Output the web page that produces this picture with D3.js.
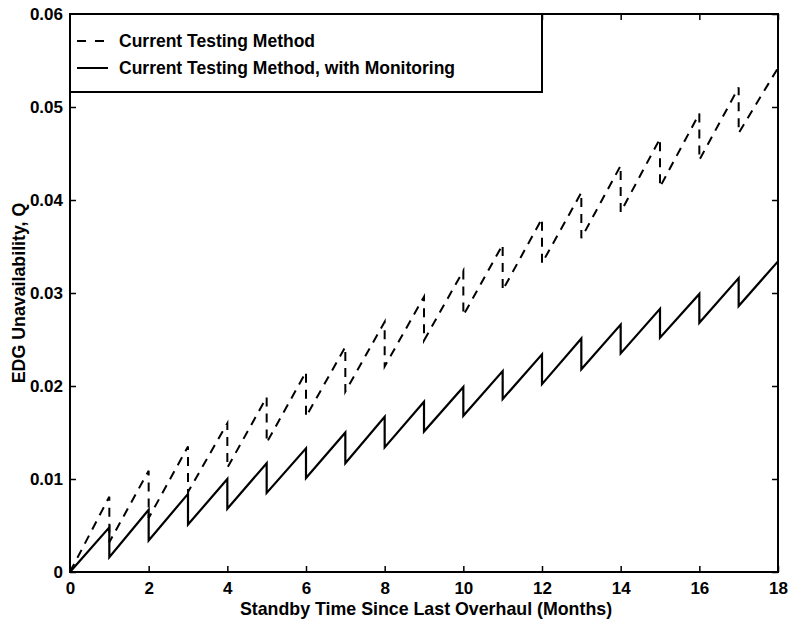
<!DOCTYPE html>
<html lang="en">
<head>
<meta charset="UTF-8">
<title>EDG Unavailability</title>
<script src="https://cdnjs.cloudflare.com/ajax/libs/d3/7.8.5/d3.min.js"></script>
<style>
  body { margin: 0; background: #fff; }
  svg text { font-family: "Liberation Sans", Arial, Helvetica, sans-serif; font-weight: bold; font-size: 17.5px; fill: #000; }
</style>
</head>
<body>
<svg id="chart" width="793" height="622"></svg>
<script>
// test instants (months) where the curves reset
const months = [1, 2, 3, 4, 5, 6, 7, 8, 9, 10, 11, 12, 13, 14, 15, 16, 17];

// Current Testing Method (dashed): value just before and just after each test
const dashedPeak  = [0.0081, 0.0109, 0.0135, 0.0160, 0.0188, 0.0215, 0.0242, 0.0269, 0.0296, 0.0324, 0.0352, 0.0380, 0.0408, 0.0437, 0.0466, 0.0493, 0.0521];
const dashedReset = [0.0032, 0.0058, 0.0086, 0.0112, 0.0139, 0.0167, 0.0194, 0.0221, 0.0249, 0.0276, 0.0303, 0.0332, 0.0359, 0.0387, 0.0414, 0.0443, 0.0472];
const dashedEnd = 0.0542;

// Current Testing Method, with Monitoring (solid)
const solidPeak  = [0.0048, 0.0067, 0.0084, 0.0100, 0.0117, 0.0133, 0.0150, 0.0167, 0.0183, 0.0199, 0.0216, 0.0234, 0.0251, 0.0266, 0.0283, 0.0299, 0.0316];
const solidReset = [0.0016, 0.0034, 0.0051, 0.0068, 0.0085, 0.0101, 0.0117, 0.0134, 0.0151, 0.0168, 0.0186, 0.0202, 0.0218, 0.0235, 0.0252, 0.0268, 0.0286];
const solidEnd = 0.0334;

const xTicks = [0, 2, 4, 6, 8, 10, 12, 14, 16, 18];
const yTicks = [0, 0.01, 0.02, 0.03, 0.04, 0.05, 0.06];
const yTickLabels = ["0", "0.01", "0.02", "0.03", "0.04", "0.05", "0.06"];

const legendLabels = ["Current Testing Method", "Current Testing Method, with Monitoring"];

const xLabel = "Standby Time Since Last Overhaul (Months)";
const yLabel = "EDG Unavailability, Q";

const svg = d3.select("#chart");
const plotL = 70, plotR = 778, plotT = 14, plotB = 572;

const x = d3.scaleLinear().domain([0, 18]).range([plotL, plotR]);
const y = d3.scaleLinear().domain([0, 0.06]).range([plotB, plotT]);

function sawtooth(peaks, resets, endVal) {
    const pts = [[0, 0]];
    months.forEach((m, i) => {
        pts.push([m, peaks[i]]);
        pts.push([m, resets[i]]);
    });
    pts.push([18, endVal]);
    return pts;
}

const line = d3.line().x(d => x(d[0])).y(d => y(d[1]));

// curves
svg.append("path")
    .attr("d", line(sawtooth(dashedPeak, dashedReset, dashedEnd)))
    .attr("fill", "none")
    .attr("stroke", "#000")
    .attr("stroke-width", 2)
    .attr("stroke-dasharray", "9,7");

svg.append("path")
    .attr("d", line(sawtooth(solidPeak, solidReset, solidEnd)))
    .attr("fill", "none")
    .attr("stroke", "#000")
    .attr("stroke-width", 2.2)
    .attr("stroke-linejoin", "miter");

// axes, ticks inward on all four sides
const tickLen = 6;
svg.append("g").attr("transform", `translate(0,${plotB})`)
    .call(d3.axisBottom(x).tickValues(xTicks).tickSizeInner(-tickLen).tickSizeOuter(0).tickPadding(10))
    .call(g => g.select(".domain").remove());
svg.append("g").attr("transform", `translate(0,${plotT})`)
    .call(d3.axisTop(x).tickValues(xTicks).tickSizeInner(-tickLen).tickSizeOuter(0).tickFormat(""))
    .call(g => g.select(".domain").remove());
svg.append("g").attr("transform", `translate(${plotL},0)`)
    .call(d3.axisLeft(y).tickValues(yTicks).tickSizeInner(-tickLen).tickSizeOuter(0).tickPadding(7)
        .tickFormat((d, i) => yTickLabels[i]))
    .call(g => g.select(".domain").remove());
svg.append("g").attr("transform", `translate(${plotR},0)`)
    .call(d3.axisRight(y).tickValues(yTicks).tickSizeInner(-tickLen).tickSizeOuter(0).tickFormat(""))
    .call(g => g.select(".domain").remove());

svg.selectAll(".tick line").attr("stroke", "#000").attr("stroke-width", 1.5);
svg.selectAll(".tick text")
    .style("font-family", "'Liberation Sans', Arial, sans-serif")
    .style("font-weight", "bold")
    .style("font-size", "17px")
    .attr("fill", "#000");

svg.append("rect")
    .attr("x", plotL).attr("y", plotT)
    .attr("width", plotR - plotL).attr("height", plotB - plotT)
    .attr("fill", "none").attr("stroke", "#000").attr("stroke-width", 2);

// legend
const legend = svg.append("g");
legend.append("rect")
    .attr("x", plotL).attr("y", plotT)
    .attr("width", 472).attr("height", 78)
    .attr("fill", "#fff").attr("stroke", "#000").attr("stroke-width", 2);
const legendRows = [{ y: 41, dash: "9,9" }, { y: 68, dash: null }];
legendRows.forEach((r, i) => {
    legend.append("line")
        .attr("x1", 77).attr("x2", 108).attr("y1", r.y).attr("y2", r.y)
        .attr("stroke", "#000").attr("stroke-width", 2)
        .attr("stroke-dasharray", r.dash);
    legend.append("text")
        .attr("x", 119).attr("y", r.y + 6)
        .text(legendLabels[i]);
});

// axis titles
svg.append("text")
    .attr("x", (plotL + plotR) / 2 + 2).attr("y", 615)
    .style("font-size", "17.8px")
    .attr("text-anchor", "middle")
    .text(xLabel);
svg.append("text")
    .attr("transform", `translate(25,${(plotT + plotB) / 2}) rotate(-90)`)
    .style("font-size", "17.8px")
    .attr("text-anchor", "middle")
    .text(yLabel);
</script>
</body>
</html>
